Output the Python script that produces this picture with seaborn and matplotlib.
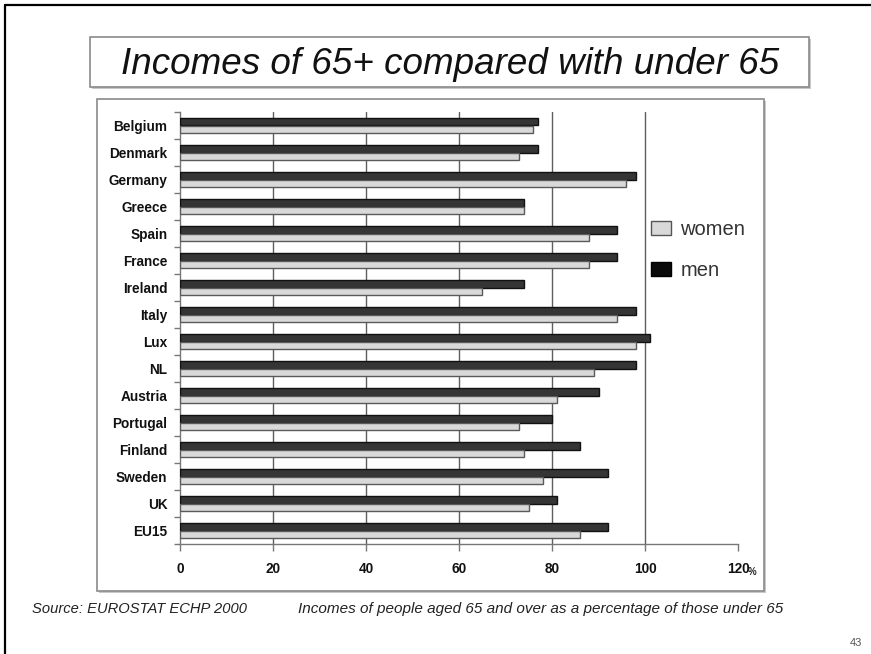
import matplotlib
matplotlib.use("Agg")
import matplotlib.pyplot as plt
import seaborn as sns
import pandas as pd
import numpy as np
from matplotlib.patches import Rectangle, Patch
from matplotlib.lines import Line2D

# Income of people aged 65+ as % of income of those under 65 (EUROSTAT ECHP 2000)
countries = ["Belgium", "Denmark", "Germany", "Greece", "Spain", "France", "Ireland",
             "Italy", "Lux", "NL", "Austria", "Portugal", "Finland", "Sweden", "UK", "EU15"]
men = [77, 77, 98, 74, 94, 94, 74, 98, 101, 98, 90, 80, 86, 92, 81, 92]
women = [76, 73, 96, 74, 88, 88, 65, 94, 98, 89, 81, 73, 74, 78, 75, 86]
x_ticks = [0, 20, 40, 60, 80, 100, 120]

title = "Incomes of 65+ compared with under 65"
source_note = "Source: EUROSTAT ECHP 2000"
axis_note = "Incomes of people aged 65 and over as a percentage of those under 65"

sns.set_theme(style="white")
plt.rcParams["font.family"] = ["Liberation Sans", "DejaVu Sans"]

W, H = 871, 654
fig = plt.figure(figsize=(W / 100, H / 100), dpi=100)
fig.patch.set_facecolor("white")


def fx(px):
    return px / W


def fy(py):
    return 1 - py / H


def framed_box(x0, y0, x1, y1):
    # soft drop shadow, then the white panel with a grey border
    fig.add_artist(Rectangle((fx(x0 + 2), fy(y1 + 2)), (x1 - x0) / W, (y1 - y0) / H,
                             transform=fig.transFigure, facecolor="#c8c8c8",
                             edgecolor="none", zorder=-3))
    fig.add_artist(Rectangle((fx(x0), fy(y1)), (x1 - x0) / W, (y1 - y0) / H,
                             transform=fig.transFigure, facecolor="white",
                             edgecolor="#8a8a8a", lw=1.2, zorder=-2))


# slide edge lines (top and left)
fig.add_artist(Line2D([fx(5), 1], [fy(5), fy(5)], transform=fig.transFigure,
                      color="black", lw=1.6))
fig.add_artist(Line2D([fx(5), fx(5)], [fy(5), 0], transform=fig.transFigure,
                      color="black", lw=1.6))

framed_box(90, 37, 809, 87)
framed_box(97, 99, 764, 591)

fig.text(fx(450), fy(64), title, ha="center", va="center", fontsize=26.5,
         style="italic", color="#111111")

ax = fig.add_axes([fx(180), fy(544), (738 - 180) / W, (544 - 112) / H])
ax.patch.set_facecolor("none")

df = pd.DataFrame({
    "country": countries * 2,
    "value": men + women,
    "sex": ["men"] * len(countries) + ["women"] * len(countries),
})

sns.barplot(data=df, x="value", y="country", hue="sex", hue_order=["men", "women"],
            order=countries, palette={"men": "#353535", "women": "#d9d9d9"},
            orient="h", width=0.58, saturation=1, legend=False, ax=ax,
            linewidth=1.0, zorder=3)

for bar in ax.containers[0]:
    bar.set_edgecolor("#111111")
for bar in ax.containers[1]:
    bar.set_edgecolor("#5a5a5a")

ax.set_xlim(0, 120)
ax.set_xticks(x_ticks)
ax.set_xticklabels([str(t) for t in x_ticks])
ax.set_xlabel("")
ax.set_ylabel("")

# vertical gridlines at 20..100
ax.set_axisbelow(True)
ax.xaxis.grid(True, color="#5e5e5e", lw=1.0)
for gl, t in zip(ax.get_xgridlines(), x_ticks):
    if t in (0, 120):
        gl.set_visible(False)

ax.set_yticks(np.arange(-0.5, len(countries), 1.0), minor=True)
ax.tick_params(axis="y", which="major", length=0, pad=9)
ax.tick_params(axis="y", which="minor", left=True, length=4, width=1, color="#777777")
ax.tick_params(axis="x", which="major", bottom=True, direction="out", length=5,
               width=1, color="#777777", pad=8)

for lbl in ax.get_yticklabels() + ax.get_xticklabels():
    lbl.set_fontsize(9.8)
    lbl.set_fontweight("bold")
    lbl.set_color("#111111")

for side in ("top", "right"):
    ax.spines[side].set_visible(False)
for side in ("left", "bottom"):
    ax.spines[side].set_visible(True)
    ax.spines[side].set_color("#777777")
    ax.spines[side].set_linewidth(1.0)

# small percent sign after the last tick label
ax.annotate("%", xy=(120, 0), xycoords=("data", "axes fraction"),
            xytext=(10, -20), textcoords="offset points", fontsize=7,
            fontweight="bold", color="#222222", ha="center", va="center")

handles = [Patch(facecolor="#d9d9d9", edgecolor="#555555", label="women"),
           Patch(facecolor="#0a0a0a", edgecolor="#000000", label="men")]
leg = ax.legend(handles=handles, loc="upper left", bbox_to_anchor=(fx(651), fy(220)),
                bbox_transform=fig.transFigure, frameon=False, fontsize=14.5,
                handlelength=1.0, handleheight=0.65, handletextpad=0.45,
                labelspacing=1.1, borderpad=0, borderaxespad=0)
for txt in leg.get_texts():
    txt.set_color("#333333")

fig.text(fx(32), fy(609), source_note, ha="left", va="center", fontsize=10.6,
         style="italic", color="#222222")
fig.text(fx(298), fy(609), axis_note, ha="left", va="center", fontsize=11,
         style="italic", color="#222222")
fig.text(fx(862), fy(643), "43", ha="right", va="center", fontsize=8, color="#555555")

fig.savefig("out.png", dpi=100)
